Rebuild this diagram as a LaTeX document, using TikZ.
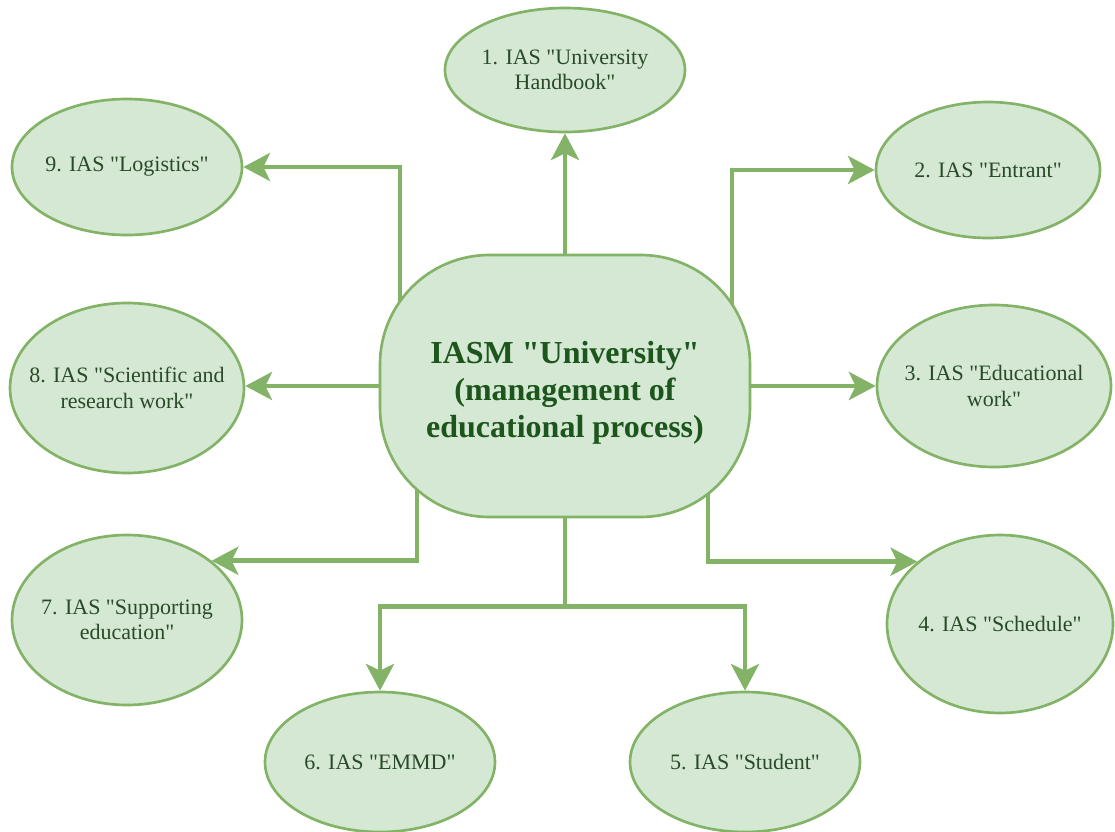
\documentclass[tikz,border=0pt]{standalone}
\usepackage{fontspec}
\setmainfont{Liberation Serif}
\usetikzlibrary{shapes.geometric,arrows.meta,backgrounds}
\definecolor{boxfill}{HTML}{D5E8D4}
\definecolor{boxline}{HTML}{82B366}
\definecolor{linkline}{HTML}{82B366}
\definecolor{subtext}{HTML}{294A29}
\definecolor{hubtext}{HTML}{1C561C}
\newcommand{\qd}{\textquotedbl}
\begin{document}
\begin{tikzpicture}[x=0.75pt,y=-0.75pt,
  sys/.style={ellipse,draw=boxline,fill=boxfill,line width=2pt,inner sep=0pt},
  systext/.style={text=subtext,font=\fontsize{16.5}{19}\selectfont,align=center},
  hub/.style={draw=boxline,fill=boxfill,line width=2pt,rounded corners=82pt,
    minimum width=277.5pt,minimum height=196.5pt},
  hubtextstyle/.style={text=hubtext,font=\bfseries\fontsize{24}{28}\selectfont,align=center},
  conn/.style={draw=linkline,line width=3.5pt,
    -{Stealth[length=20pt,width=21pt,inset=5pt]}}]
\useasboundingbox (0,0) rectangle (1115,832);

% central system
\node[hub,label={[hubtextstyle,yshift=-5pt]center:IASM \qd University\qd\\(management of\\educational process)}] (c) at (565,386) {};

% subsystems
\node[sys,minimum width=180pt,minimum height=93pt,
  label={[systext]center:1. IAS \qd University\\Handbook\qd}] (e1) at (565,70) {};
\node[sys,minimum width=168pt,minimum height=102pt,
  label={[systext]center:2. IAS \qd Entrant\qd}] (e2) at (988,170) {};
\node[sys,minimum width=175.5pt,minimum height=121.5pt,
  label={[systext]center:3. IAS \qd Educational\\work\qd}] (e3) at (994,386) {};
\node[sys,minimum width=169.5pt,minimum height=133.5pt,
  label={[systext]center:4. IAS \qd Schedule\qd}] (e4) at (1000,624) {};
\node[sys,minimum width=172.5pt,minimum height=105pt,
  label={[systext]center:5. IAS \qd Student\qd}] (e5) at (745,762) {};
\node[sys,minimum width=172.5pt,minimum height=105pt,
  label={[systext]center:6. IAS \qd EMMD\qd}] (e6) at (380,762) {};
\node[sys,minimum width=172.5pt,minimum height=127.5pt,
  label={[systext]center:7. IAS \qd Supporting\\education\qd}] (e7) at (127,620) {};
\node[sys,minimum width=175.5pt,minimum height=127.5pt,
  label={[systext]center:8. IAS \qd Scientific and\\research work\qd}] (e8) at (127,388) {};
\node[sys,minimum width=172.5pt,minimum height=102pt,
  label={[systext]center:9. IAS \qd Logistics\qd}] (e9) at (127,167) {};

% connectors, kept behind the shapes
\begin{scope}[on background layer]
  \draw[conn] (c.north) -- (e1.south);
  \draw[conn] ([xshift=125.25pt]c.center) |- (e2.west);
  \draw[conn] (c.east) -- (c.east -| e3.west);
  \draw[conn] ([xshift=107.25pt]c.center) |- (e4.143);
  \draw[conn] (c.south) -- ++(0,88) -| (e5.north);
  \draw[conn] (c.south) -- ++(0,88) -| (e6.north);
  \draw[conn] ([xshift=-111pt]c.center) |- (e7.35);
  \draw[conn] (c.west) -- (c.west -| e8.east);
  \draw[conn] ([xshift=-123.75pt]c.center) |- (e9.east);
\end{scope}
\end{tikzpicture}
\end{document}
